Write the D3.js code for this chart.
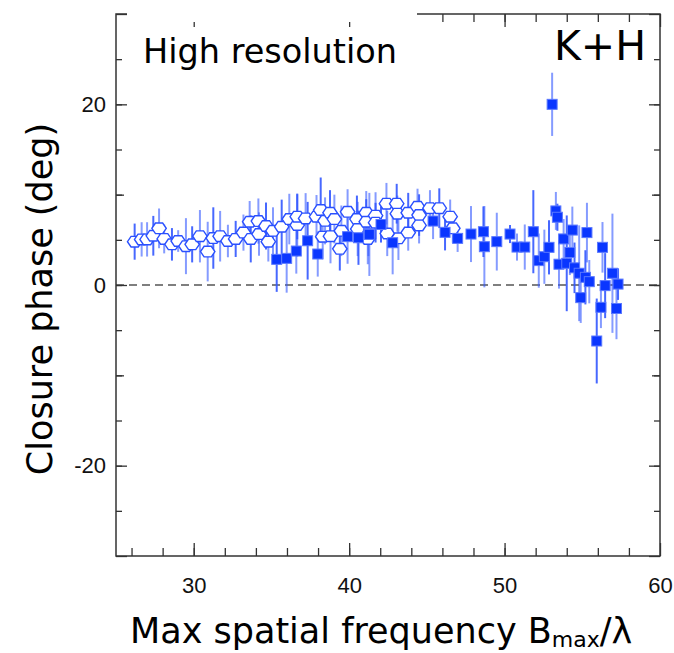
<!DOCTYPE html>
<html lang="en">
<head>
<meta charset="UTF-8">
<title>Closure phase</title>
<style>
  body { margin: 0; background: #fff; }
</style>
</head>
<body>
<svg width="674" height="653"></svg>
<script src="https://cdn.jsdelivr.net/npm/d3@7"></script>
<script>
// open hexagons
var hexX = [26.2, 26.65, 27.0, 27.4, 27.77, 28.1, 28.6, 29.0, 29.5, 29.9, 30.4, 30.9, 31.26, 31.7, 32.2, 32.7, 33.2, 33.6, 33.67, 34.16,
            34.2, 34.65, 34.8, 35.1, 35.66, 36.15, 36.66, 36.66, 37.2, 37.9, 38.17, 38.3, 38.45, 38.77, 38.8, 39.05, 39.4, 39.5, 39.9, 40.5,
            40.55, 41.1, 41.1, 41.2, 41.7, 41.7, 42.4, 42.45, 43.06, 43.1, 43.17, 43.8, 43.8, 44.4, 44.5, 44.5, 45.2, 45.8, 46.5, 46.67];
var hexY = [4.8, 5.05, 5.05, 5.45, 6.27, 5.1, 4.5, 4.87, 4.3, 4.5, 5.4, 3.7, 5.2, 5.4, 4.87, 5.1, 5.8, 7.0, 5.1, 7.08,
            5.64, 6.53, 4.8, 6.0, 6.45, 7.3, 6.64, 7.56, 7.37, 7.56, 8.3, 5.35, 7.1, 8.0, 5.4, 7.3, 4.0, 6.0, 8.1, 7.3,
            6.2, 8.0, 7.0, 5.1, 7.67, 6.9, 9.0, 5.7, 9.0, 7.9, 5.17, 8.0, 5.8, 8.66, 7.74, 6.6, 8.5, 8.5, 7.56, 6.27];
var hexErr = [2.0, 1.9, 1.9, 2.2, 2.2, 1.6, 1.8, 1.2, 3.1, 2.0, 2.9, 3.3, 3.4, 2.8, 1.8, 2.0, 2.0, 2.3, 2.6, 2.5,
              2.4, 2.6, 2.2, 2.6, 3.0, 2.8, 3.5, 2.5, 2.8, 2.4, 3.6, 2.5, 2.6, 2.5, 3.0, 2.7, 2.4, 2.8, 2.5, 2.6,
              3.0, 2.4, 2.5, 2.8, 2.6, 2.2, 2.3, 2.5, 2.2, 2.0, 2.4, 2.2, 2.0, 2.0, 2.3, 2.0, 2.0, 2.2, 1.9, 1.6];

// filled squares
var sqX = [35.34, 35.98, 36.6, 37.33, 37.98, 39.9, 40.6, 41.24, 41.3, 42.05, 42.8, 45.4, 46.17, 46.98, 47.84, 48.64, 48.7, 49.5, 50.35, 50.8,
           51.3, 51.85, 52.2, 52.56, 52.86, 53.06, 53.3, 53.4, 53.5, 53.8, 54.0, 54.2, 54.36, 54.5, 54.8, 54.9, 55.2, 55.3, 55.45, 55.93,
           56.2, 56.3, 56.47, 56.94, 57.2, 57.3];
var sqY = [2.84, 2.95, 3.76, 4.9, 3.43, 5.35, 5.23, 5.7, 5.6, 6.7, 4.68, 7.08, 5.83, 5.16, 5.64, 5.9, 4.24, 4.8, 5.64, 4.2,
           4.2, 5.9, 2.7, 3.13, 4.17, 20.0, 8.2, 7.5, 2.3, 5.1, 2.4, 3.6, 6.08, 1.9, 1.3, -1.4, 0.85, 5.8, 0.37, -6.2,
           -2.47, 4.17, -0.07, 1.3, -2.6, 0.1];
var sqErr = [3.6, 3.8, 2.5, 4.3, 2.5, 3.0, 3.0, 2.5, 4.6, 2.0, 3.5, 2.0, 2.0, 1.5, 3.1, 2.8, 4.5, 3.2, 1.0, 1.5,
             2.5, 4.6, 3.0, 3.0, 3.0, 3.5, 2.1, 1.5, 2.7, 2.2, 5.3, 2.5, 2.6, 2.8, 5.3, 2.8, 3.0, 3.3, 2.4, 4.7,
             2.3, 2.8, 3.6, 6.6, 3.4, 1.75];

var xMajor = [30, 40, 50, 60];
var yLabelTicks = [-20, 0, 20];

var svg = d3.select("svg");
var x = d3.scaleLinear().domain([25, 60]).range([116, 660]);
var y = d3.scaleLinear().domain([-30, 30]).range([556, 14]);

var hexPts = hexX.map(function(d, i) { return {x: d, y: hexY[i], e: hexErr[i]}; });
var sqPts = sqX.map(function(d, i) { return {x: d, y: sqY[i], e: sqErr[i]}; });

// zero line
svg.append("line")
  .attr("x1", x(25)).attr("x2", x(60))
  .attr("y1", y(0)).attr("y2", y(0))
  .attr("stroke", "#555").attr("stroke-width", 1.6)
  .attr("stroke-dasharray", "8,5");

// error bars
var errColor = "#3358ff";
function errBars(pts) {
  svg.append("g").selectAll("line")
    .data(pts).enter().append("line")
    .attr("x1", function(d) { return x(d.x); })
    .attr("x2", function(d) { return x(d.x); })
    .attr("y1", function(d) { return y(d.y - d.e); })
    .attr("y2", function(d) { return y(d.y + d.e); })
    .attr("stroke", errColor)
    .attr("stroke-opacity", function(d, i) { return i % 3 == 0 ? 0.9 : 0.6; })
    .attr("stroke-width", 2);
}
errBars(hexPts);
errBars(sqPts);

// hexagons
var r = 7.2;
var hexPath = d3.line()(d3.range(6).map(function(k) {
  var a = k * Math.PI / 3;
  return [r * Math.cos(a), r * 0.85 * Math.sin(a)];
})) + "Z";
svg.append("g").selectAll("path")
  .data(hexPts).enter().append("path")
  .attr("d", hexPath)
  .attr("transform", function(d) { return "translate(" + x(d.x) + "," + y(d.y) + ")"; })
  .attr("fill", "#fff")
  .attr("stroke", "#2a50ff")
  .attr("stroke-width", 1.4);

// squares
var s = 10;
svg.append("g").selectAll("rect")
  .data(sqPts).enter().append("rect")
  .attr("x", function(d) { return x(d.x) - s / 2; })
  .attr("y", function(d) { return y(d.y) - s / 2; })
  .attr("width", s).attr("height", s)
  .attr("fill", "#0a36ff")
  .attr("stroke", "#5a78ff")
  .attr("stroke-width", 1);

// axes (ticks pointing inward)
function fmt(d) { return yLabelTicks.indexOf(d) >= 0 ? d : ""; }
var tickFont = "Liberation Sans, Arial, sans-serif";

var xMinorAx = d3.axisBottom(x).tickValues(d3.range(26, 60, 2)).tickSize(-8).tickFormat("");
var xMajorAx = d3.axisBottom(x).tickValues(xMajor).tickSize(-13).tickPadding(21);
var xTopMinor = d3.axisTop(x).tickValues(d3.range(26, 60, 2)).tickSize(-8).tickFormat("");
var xTopMajor = d3.axisTop(x).tickValues(xMajor).tickSize(-13).tickFormat("");

svg.append("g").attr("transform", "translate(0," + y(-30) + ")").call(xMinorAx);
svg.append("g").attr("transform", "translate(0," + y(-30) + ")").call(xMajorAx);
svg.append("g").attr("transform", "translate(0," + y(30) + ")").call(xTopMinor);
svg.append("g").attr("transform", "translate(0," + y(30) + ")").call(xTopMajor);

var yTicks5 = d3.range(-25, 30, 5);
var yLeft5 = d3.axisLeft(y).tickValues(yTicks5).tickSize(-6).tickFormat("");
var yLeft10 = d3.axisLeft(y).tickValues([-10, 10]).tickSize(-8).tickFormat("");
var yLeftMaj = d3.axisLeft(y).tickValues([-30, -20, 0, 20, 30]).tickSize(-11).tickPadding(10).tickFormat(fmt);
var yRight5 = d3.axisRight(y).tickValues(yTicks5).tickSize(-6).tickFormat("");
var yRight10 = d3.axisRight(y).tickValues([-10, 10]).tickSize(-8).tickFormat("");
var yRightMaj = d3.axisRight(y).tickValues([-30, -20, 0, 20, 30]).tickSize(-11).tickFormat("");

[yLeft5, yLeft10, yLeftMaj].forEach(function(a) {
  svg.append("g").attr("transform", "translate(" + x(25) + ",0)").call(a);
});
[yRight5, yRight10, yRightMaj].forEach(function(a) {
  svg.append("g").attr("transform", "translate(" + x(60) + ",0)").call(a);
});

svg.selectAll(".domain").remove();
svg.selectAll(".tick line").attr("stroke", "#333").attr("stroke-width", 1.3);
svg.selectAll(".tick text")
  .attr("font-family", tickFont).attr("font-size", 22).attr("fill", "#111");

// spines
svg.append("rect")
  .attr("x", x(25)).attr("y", y(30))
  .attr("width", x(60) - x(25)).attr("height", y(-30) - y(30))
  .attr("fill", "none").attr("stroke", "#333").attr("stroke-width", 1.5);

// label box covering top-left part of the frame
svg.append("rect")
  .attr("x", 127).attr("y", 6).attr("width", 290).attr("height", 16)
  .attr("fill", "#fff");

var titleFont = "DejaVu Sans, Verdana, sans-serif";
svg.append("text")
  .attr("x", 143).attr("y", 63)
  .attr("font-family", titleFont).attr("font-size", 33.5).attr("fill", "#000")
  .text("High resolution");

svg.append("text")
  .attr("x", 646).attr("y", 60).attr("text-anchor", "end")
  .attr("font-family", titleFont).attr("font-size", 41).attr("fill", "#000")
  .text("K+H");

svg.append("text")
  .attr("transform", "translate(52,299) rotate(-90)")
  .attr("text-anchor", "middle")
  .attr("font-family", titleFont).attr("font-size", 35).attr("fill", "#000")
  .text("Closure phase (deg)");

var xt = svg.append("text")
  .attr("x", 130).attr("y", 643)
  .attr("font-family", titleFont).attr("font-size", 35).attr("fill", "#000");
xt.append("tspan").text("Max spatial frequency B");
xt.append("tspan").attr("font-size", 22).attr("dy", 4).text("max");
xt.append("tspan").attr("dy", -4).text("/λ");
</script>
</body>
</html>
